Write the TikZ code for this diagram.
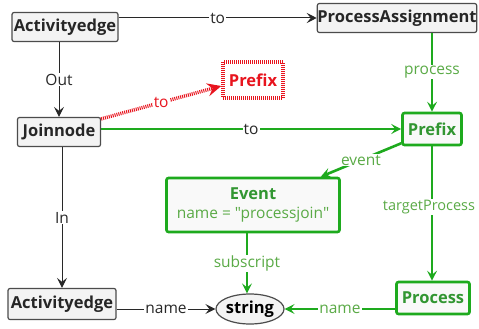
\documentclass[tikz,border=0pt]{standalone}
\usepackage{fontspec}
\newfontfamily\osf{Open Sans}
\usetikzlibrary{arrows.meta,shapes.geometric}
\definecolor{gr}{RGB}{30,170,30}
\definecolor{grt}{RGB}{50,150,50}
\definecolor{lab}{RGB}{90,170,70}
\definecolor{boxfill}{RGB}{243,243,243}
\definecolor{rd}{RGB}{232,20,30}
\definecolor{edgec}{RGB}{40,40,40}
\begin{document}
\begin{tikzpicture}[x=1pt,y=-1pt,
  bfont/.style={font=\osf\bfseries\fontsize{16.5}{18}\selectfont},
  rfont/.style={font=\osf\fontsize{15.5}{17}\selectfont},
  box/.style={bfont, draw=black!70, line width=1.2pt, fill=boxfill, rounded corners=2pt, inner sep=0pt, text=black!85},
  gbox/.style={bfont, draw=gr, line width=2.6pt, fill=boxfill!50, rounded corners=2pt, inner sep=0pt, text=grt},
  rbox/.style={bfont, draw=rd, line width=3.5pt, dash pattern=on 1pt off 1pt, inner sep=0pt, text=rd},
  tip/.style={-{Stealth[length=10pt,width=10pt,inset=4pt]}},
  edge/.style={tip, draw=edgec, line width=1pt},
  gedge/.style={tip, draw=gr, line width=2.6pt},
  redge/.style={-{Stealth[length=14pt,width=13pt,inset=5pt]}, draw=rd, line width=3.5pt, dash pattern=on 1pt off 1pt},
  lbl/.style={rfont, fill=white, inner sep=1pt, text=edgec},
  glbl/.style={rfont, fill=white, inner sep=1pt, text=lab},
  rlbl/.style={rfont, fill=white, inner sep=1pt, text=rd},
]
\useasboundingbox[fill=white] (0,0) rectangle (479,329);

\node[box, minimum width=106pt, minimum height=29pt] (a1) at (65,27) {Activityedge};
\node[box, minimum width=155pt, minimum height=29pt] (pa) at (397,18) {ProcessAssignment};
\node[rbox, minimum width=60pt, minimum height=36pt] (rp) at (253,80) {Prefix};
\node[box, minimum width=83pt, minimum height=29pt] (jn) at (59,132) {Joinnode};
\node[gbox, minimum width=59pt, minimum height=32pt] (gp) at (432,129) {Prefix};
\node[gbox, minimum width=173pt, minimum height=54pt, align=center] (ev) at (253,205)
  {Event\\[1pt]{\mdseries\color{lab}\fontsize{15.5}{17}\selectfont name = "processjoin"}};
\node[box, minimum width=108pt, minimum height=31pt] (a2) at (62,304) {Activityedge};
\node[bfont, ellipse, draw=black!70, line width=1.2pt, fill=boxfill, minimum width=68pt, minimum height=30pt, inner sep=0pt] (st) at (250,309) {string};
\node[gbox, minimum width=73pt, minimum height=32pt] (pr) at (433,298) {Process};

\draw[edge] (a1.east |- pa.west) -- node[lbl] {to} (pa.west);
\draw[edge] (jn.north |- a1.south) -- node[lbl] {Out} (jn.north);
\draw[edge] (a2.north |- jn.south) -- node[lbl] {In} (a2.north);
\draw[edge] (a2.east |- st.west) -- node[lbl] {name} (st.west);

\draw[redge] ([yshift=-2pt]jn.north east) -- node[rlbl, pos=0.5] {to} ([yshift=-6pt]rp.west);

\draw[gedge] (jn.east |- gp.west) -- node[lbl] {to} (gp.west);
\draw[gedge] (gp.north |- pa.south) -- node[glbl] {process} (gp.north);
\draw[gedge] ([yshift=3pt]gp.south west) -- node[glbl] {event} ([xshift=-20pt]ev.north east);
\draw[gedge] (gp.south) -- node[glbl, pos=0.45, xshift=-3pt, font=\osf\fontsize{14.5}{16}\selectfont] {targetProcess} (gp.south |- pr.north);
\draw[gedge] ([xshift=-6pt]ev.south) -- node[glbl] {subscript} ([xshift=-3pt]st.north);
\draw[gedge] (pr.west |- st.east) -- node[glbl] {name} (st.east);
\end{tikzpicture}
\end{document}
